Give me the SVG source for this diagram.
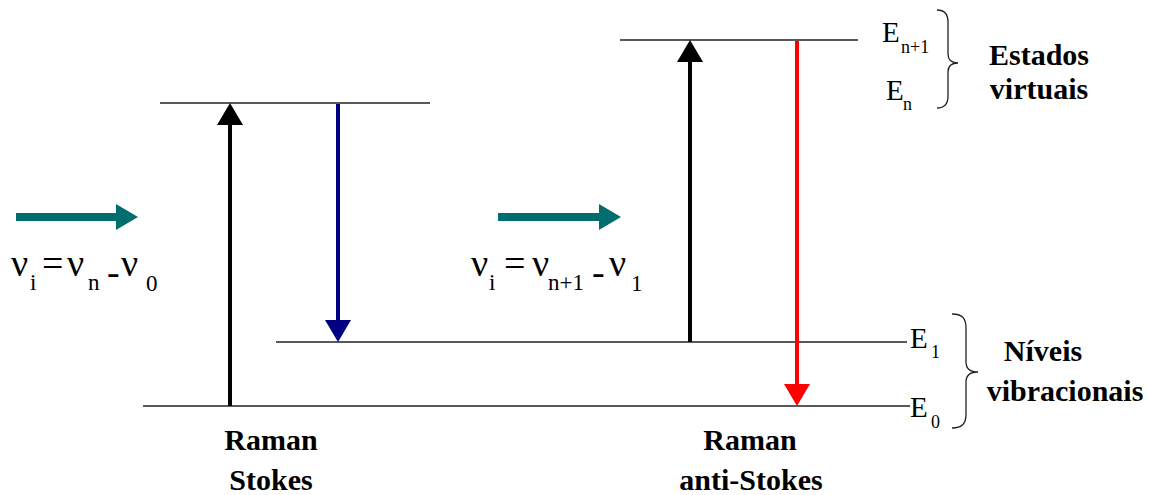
<svg xmlns="http://www.w3.org/2000/svg" width="1150" height="495" viewBox="0 0 1150 495">
<style>
.lvl{stroke:#222;stroke-width:1.5;fill:none}
.sh{fill:none;stroke-width:4}
.brace{fill:none;stroke:#222;stroke-width:1.3}
.t{font-family:"Liberation Serif","Times New Roman",serif;fill:#000}
.big{font-size:38px}
.sub{font-size:23px}
.e{font-size:29px}
.es{font-size:18px}
.lab{font-family:"Liberation Serif","Times New Roman",serif;font-weight:bold;font-size:30px;fill:#000;text-anchor:middle}
</style>
<defs>
<marker id="hk" markerUnits="userSpaceOnUse" viewBox="0 0 22 26" markerWidth="22" markerHeight="26" refX="0" refY="13" orient="auto"><path d="M0,0 L22,13 L0,26 z" fill="#000"/></marker>
<marker id="hb" markerUnits="userSpaceOnUse" viewBox="0 0 22 26" markerWidth="22" markerHeight="26" refX="0" refY="13" orient="auto"><path d="M0,0 L22,13 L0,26 z" fill="#000080"/></marker>
<marker id="hr" markerUnits="userSpaceOnUse" viewBox="0 0 22 26" markerWidth="22" markerHeight="26" refX="0" refY="13" orient="auto"><path d="M0,0 L22,13 L0,26 z" fill="#ff0000"/></marker>
<marker id="ht" markerUnits="userSpaceOnUse" viewBox="0 0 22 26" markerWidth="22" markerHeight="26" refX="0" refY="13" orient="auto"><path d="M0,0 L22,13 L0,26 z" fill="#006e6e"/></marker>
</defs>

<g id="levels">
<line class="lvl" x1="160" y1="103" x2="430" y2="103"/>
<line class="lvl" x1="620" y1="40" x2="858" y2="40"/>
<line class="lvl" x1="276" y1="342" x2="907" y2="342"/>
<line class="lvl" x1="143" y1="406" x2="910" y2="406"/>
</g>

<g id="connectors">
<line class="sh" stroke="#000" x1="230" y1="406" x2="230" y2="125" marker-end="url(#hk)"/>
<line class="sh" stroke="#000080" x1="338" y1="104" x2="338" y2="320" marker-end="url(#hb)"/>
<line class="sh" stroke="#000" x1="690" y1="342" x2="690" y2="62" marker-end="url(#hk)"/>
<line class="sh" stroke="#ff0000" x1="797" y1="41" x2="797" y2="384" marker-end="url(#hr)"/>
<line stroke="#006e6e" stroke-width="8" x1="16" y1="217" x2="116" y2="217" marker-end="url(#ht)"/>
<line stroke="#006e6e" stroke-width="8" x1="498" y1="217" x2="599" y2="217" marker-end="url(#ht)"/>
</g>

<g id="eq-stokes">
<text class="t"><tspan class="big" x="11" y="276">ν</tspan><tspan class="sub" x="30" y="290">i</tspan><tspan class="big" x="42" y="276">=</tspan><tspan class="big" x="67" y="276">ν</tspan><tspan class="sub" x="88" y="290">n</tspan><tspan class="big" x="107" y="285">-</tspan><tspan class="big" x="121" y="276">ν</tspan><tspan class="sub" x="146" y="291">0</tspan></text>
</g>

<g id="eq-antistokes">
<text class="t"><tspan class="big" x="471" y="276">ν</tspan><tspan class="sub" x="489" y="290">i</tspan><tspan class="big" x="504" y="276">=</tspan><tspan class="big" x="532" y="276">ν</tspan><tspan class="sub" x="548" y="290">n+1</tspan><tspan class="big" x="592" y="285">-</tspan><tspan class="big" x="609" y="276">ν</tspan><tspan class="sub" x="631" y="291">1</tspan></text>
</g>

<g id="virtual-states">
<text class="t"><tspan class="e" x="882" y="42">E</tspan><tspan class="es" x="901" y="53">n+1</tspan></text>
<text class="t"><tspan class="e" x="886" y="100">E</tspan><tspan class="es" x="903" y="110">n</tspan></text>
<path class="brace" d="M937,10 C945,10 948,14 948,22 L948,54 C948,60 951,63 958,63 C951,63 948,66 948,72 L948,96 C948,104 945,108 937,108"/>
<text class="lab" x="1039" y="65">Estados</text>
<text class="lab" x="1039" y="99">virtuais</text>
</g>

<g id="vibrational-levels">
<text class="t"><tspan class="e" x="910" y="348">E</tspan><tspan class="es" x="931" y="358">1</tspan></text>
<text class="t"><tspan class="e" x="910" y="417">E</tspan><tspan class="es" x="931" y="428">0</tspan></text>
<path class="brace" d="M952,314 C962,314 966,318 966,328 L966,362 C966,368 970,372 978,372 C970,372 966,376 966,382 L966,414 C966,424 962,428 952,428"/>
<text class="lab" x="1043" y="361">Níveis</text>
<text class="lab" x="1065" y="401">vibracionais</text>
</g>

<g id="label-stokes">
<text class="lab" x="271" y="450">Raman</text>
<text class="lab" x="271" y="490">Stokes</text>
</g>

<g id="label-antistokes">
<text class="lab" x="750" y="450">Raman</text>
<text class="lab" x="751" y="490">anti-Stokes</text>
</g>
</svg>
